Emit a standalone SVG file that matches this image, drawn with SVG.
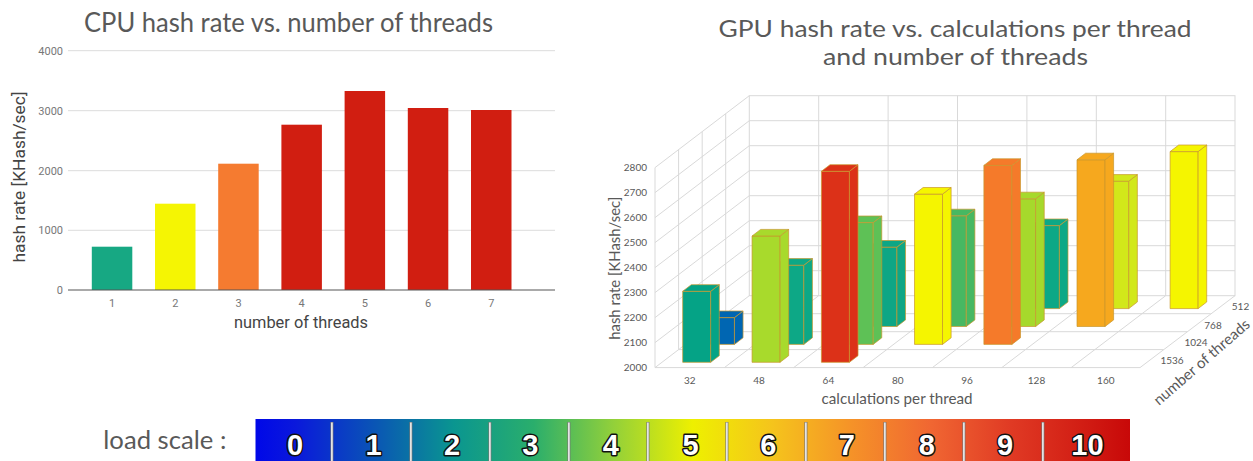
<svg xmlns="http://www.w3.org/2000/svg" width="1253" height="461" viewBox="0 0 1253 461">
<style>
.title{font-family:Lato,"Open Sans","Liberation Sans",sans-serif;fill:#595959;}
.tick{font-family:Roboto,"Liberation Sans",sans-serif;font-size:11px;fill:#777;}
.axt{font-family:Roboto,"Liberation Sans",sans-serif;font-size:17px;fill:#444;}
.grid{stroke:#dcdcdc;stroke-width:1;fill:none;}
.g3{stroke:#d9d9d9;stroke-width:1;fill:none;}
.t3{font-family:Lato,"Open Sans","Liberation Sans",sans-serif;font-size:10px;fill:#595959;}
.a3{font-family:Lato,"Open Sans","Liberation Sans",sans-serif;font-size:15px;fill:#595959;}
.bar3 rect,.bar3 polygon{stroke:#c8962d;stroke-width:0.7;stroke-linejoin:round;}
.dig{font-family:"Liberation Sans",Arial,sans-serif;font-weight:bold;font-size:29px;fill:#fff;stroke:#111;stroke-width:3;paint-order:stroke;stroke-linejoin:round;text-anchor:middle;}
.sep{stroke:#777;stroke-width:3;}
.sepw{stroke:#fff;stroke-width:1.4;}
</style>
<defs>
<linearGradient id="load" x1="0" y1="0" x2="1" y2="0">
<stop offset="0" stop-color="#0008e8"/>
<stop offset="0.045" stop-color="#0a18dc"/>
<stop offset="0.136" stop-color="#0a55b5"/>
<stop offset="0.227" stop-color="#0a9690"/>
<stop offset="0.318" stop-color="#2aae6c"/>
<stop offset="0.409" stop-color="#92d03a"/>
<stop offset="0.5" stop-color="#eef000"/>
<stop offset="0.591" stop-color="#f5c41c"/>
<stop offset="0.682" stop-color="#f59228"/>
<stop offset="0.773" stop-color="#f06632"/>
<stop offset="0.864" stop-color="#e03a24"/>
<stop offset="0.955" stop-color="#d01a12"/>
<stop offset="1" stop-color="#c80808"/>
</linearGradient>
</defs>
<rect width="1253" height="461" fill="#fff"/>

<g id="cpu-chart">
<text class="title" x="288.5" y="32.3" font-size="26" text-anchor="middle" textLength="409" lengthAdjust="spacingAndGlyphs">CPU hash rate vs. number of threads</text>
<g class="grid">
<line x1="68" y1="50.7" x2="555" y2="50.7"/>
<line x1="68" y1="110.7" x2="555" y2="110.7"/>
<line x1="68" y1="170.7" x2="555" y2="170.7"/>
<line x1="68" y1="230.3" x2="555" y2="230.3"/>
</g>
<g class="tick" text-anchor="end">
<text x="63" y="54.7">4000</text>
<text x="63" y="114.7">3000</text>
<text x="63" y="174.7">2000</text>
<text x="63" y="234.3">1000</text>
<text x="63" y="294">0</text>
</g>
<g id="cpu-bars">
<rect x="91.8" y="246.7" width="40.5" height="43.3" fill="#17a883"/>
<rect x="155" y="203.7" width="40.5" height="86.3" fill="#f5f503"/>
<rect x="218.2" y="163.7" width="40.5" height="126.3" fill="#f57b30"/>
<rect x="281.4" y="124.7" width="40.5" height="165.3" fill="#d11e11"/>
<rect x="344.6" y="91" width="40.5" height="199" fill="#d11e11"/>
<rect x="407.8" y="108" width="40.5" height="182" fill="#d11e11"/>
<rect x="471" y="110" width="40.5" height="180" fill="#d11e11"/>
</g>
<line x1="68" y1="290" x2="555" y2="290" stroke="#555" stroke-width="1"/>
<g class="tick" text-anchor="middle">
<text x="112" y="306.7">1</text>
<text x="175.3" y="306.7">2</text>
<text x="238.5" y="306.7">3</text>
<text x="301.7" y="306.7">4</text>
<text x="364.9" y="306.7">5</text>
<text x="428" y="306.7">6</text>
<text x="491.3" y="306.7">7</text>
</g>
<text class="axt" x="301" y="327.5" text-anchor="middle" textLength="134" lengthAdjust="spacingAndGlyphs">number of threads</text>
<text class="axt" transform="translate(24.5,177) rotate(-90)" text-anchor="middle" textLength="171" lengthAdjust="spacingAndGlyphs">hash rate [KHash/sec]</text>
</g>

<g id="gpu-chart">
<text class="title" x="955" y="37.3" font-size="24" text-anchor="middle" textLength="473" lengthAdjust="spacingAndGlyphs">GPU hash rate vs. calculations per thread</text>
<text class="title" x="955.5" y="65" font-size="24" text-anchor="middle" textLength="265" lengthAdjust="spacingAndGlyphs">and number of threads</text>
<g id="gpu-grid" class="g3">
<rect x="749.3" y="95.7" width="485.7" height="200"/>
<line x1="818.7" y1="95.7" x2="818.7" y2="295.7"/>
<line x1="888.1" y1="95.7" x2="888.1" y2="295.7"/>
<line x1="957.5" y1="95.7" x2="957.5" y2="295.7"/>
<line x1="1026.9" y1="95.7" x2="1026.9" y2="295.7"/>
<line x1="1096.3" y1="95.7" x2="1096.3" y2="295.7"/>
<line x1="1165.7" y1="95.7" x2="1165.7" y2="295.7"/>
<line x1="749.3" y1="120.7" x2="1235" y2="120.7"/>
<line x1="749.3" y1="145.7" x2="1235" y2="145.7"/>
<line x1="749.3" y1="170.7" x2="1235" y2="170.7"/>
<line x1="749.3" y1="195.7" x2="1235" y2="195.7"/>
<line x1="749.3" y1="220.7" x2="1235" y2="220.7"/>
<line x1="749.3" y1="245.7" x2="1235" y2="245.7"/>
<line x1="749.3" y1="270.7" x2="1235" y2="270.7"/>
<line x1="655" y1="167.6" x2="655" y2="367.6"/>
<line x1="678.6" y1="149.6" x2="678.6" y2="349.6"/>
<line x1="702.2" y1="131.7" x2="702.2" y2="331.7"/>
<line x1="725.7" y1="113.7" x2="725.7" y2="313.7"/>
<line x1="655" y1="367.6" x2="749.3" y2="295.7"/>
<line x1="655" y1="342.6" x2="749.3" y2="270.7"/>
<line x1="655" y1="317.6" x2="749.3" y2="245.7"/>
<line x1="655" y1="292.6" x2="749.3" y2="220.7"/>
<line x1="655" y1="267.6" x2="749.3" y2="195.7"/>
<line x1="655" y1="242.6" x2="749.3" y2="170.7"/>
<line x1="655" y1="217.6" x2="749.3" y2="145.7"/>
<line x1="655" y1="192.6" x2="749.3" y2="120.7"/>
<line x1="655" y1="167.6" x2="749.3" y2="95.7"/>
<line x1="655" y1="367.6" x2="1140" y2="367.6"/>
<line x1="678.6" y1="349.6" x2="1163.6" y2="349.6"/>
<line x1="702.2" y1="331.7" x2="1187.2" y2="331.7"/>
<line x1="725.7" y1="313.7" x2="1210.7" y2="313.7"/>
<line x1="724.4" y1="367.6" x2="818.7" y2="295.7"/>
<line x1="793.7" y1="367.6" x2="888.1" y2="295.7"/>
<line x1="863.1" y1="367.6" x2="957.5" y2="295.7"/>
<line x1="932.4" y1="367.6" x2="1026.9" y2="295.7"/>
<line x1="1001.8" y1="367.6" x2="1096.3" y2="295.7"/>
<line x1="1071.2" y1="367.6" x2="1165.7" y2="295.7"/>
<line x1="1140" y1="367.6" x2="1235" y2="295.7"/>
</g>
<g id="gpu-bars" class="bar3">
<g transform="translate(1031.39,225.6)" fill="#0da886"><rect x="0" y="0" width="28" height="83"/><polygon points="28,0 36.6,-6.6 36.6,76.4 28,83"/><polygon points="0,0 8.6,-6.6 36.6,-6.6 28,0"/></g>
<g transform="translate(1100.75,181.2)" fill="#d2e81a"><rect x="0" y="0" width="28" height="127.4"/><polygon points="28,0 36.6,-6.6 36.6,120.8 28,127.4"/><polygon points="0,0 8.6,-6.6 36.6,-6.6 28,0"/></g>
<g transform="translate(1170.11,151.6)" fill="#f5f500"><rect x="0" y="0" width="28" height="157"/><polygon points="28,0 36.6,-6.6 36.6,150.4 28,157"/><polygon points="0,0 8.6,-6.6 36.6,-6.6 28,0"/></g>
<g transform="translate(868.92,247.1)" fill="#0ea685"><rect x="0" y="0" width="28" height="79.4"/><polygon points="28,0 36.6,-6.6 36.6,72.8 28,79.4"/><polygon points="0,0 8.6,-6.6 36.6,-6.6 28,0"/></g>
<g transform="translate(938.28,215.8)" fill="#47b862"><rect x="0" y="0" width="28" height="110.7"/><polygon points="28,0 36.6,-6.6 36.6,104.1 28,110.7"/><polygon points="0,0 8.6,-6.6 36.6,-6.6 28,0"/></g>
<g transform="translate(1007.64,198.8)" fill="#a6d92c"><rect x="0" y="0" width="28" height="127.7"/><polygon points="28,0 36.6,-6.6 36.6,121.1 28,127.7"/><polygon points="0,0 8.6,-6.6 36.6,-6.6 28,0"/></g>
<g transform="translate(1077,159.8)" fill="#f6a81e"><rect x="0" y="0" width="28" height="166.7"/><polygon points="28,0 36.6,-6.6 36.6,160.1 28,166.7"/><polygon points="0,0 8.6,-6.6 36.6,-6.6 28,0"/></g>
<g transform="translate(706.45,317.6)" fill="#0066b2"><rect x="0" y="0" width="28" height="26.8"/><polygon points="28,0 36.6,-6.6 36.6,20.2 28,26.8"/><polygon points="0,0 8.6,-6.6 36.6,-6.6 28,0"/></g>
<g transform="translate(775.81,265.2)" fill="#0da886"><rect x="0" y="0" width="28" height="79.2"/><polygon points="28,0 36.6,-6.6 36.6,72.6 28,79.2"/><polygon points="0,0 8.6,-6.6 36.6,-6.6 28,0"/></g>
<g transform="translate(845.17,222.6)" fill="#5ec156"><rect x="0" y="0" width="28" height="121.8"/><polygon points="28,0 36.6,-6.6 36.6,115.2 28,121.8"/><polygon points="0,0 8.6,-6.6 36.6,-6.6 28,0"/></g>
<g transform="translate(914.53,194.1)" fill="#f5f500"><rect x="0" y="0" width="28" height="150.3"/><polygon points="28,0 36.6,-6.6 36.6,143.7 28,150.3"/><polygon points="0,0 8.6,-6.6 36.6,-6.6 28,0"/></g>
<g transform="translate(983.89,165.4)" fill="#f57a2a"><rect x="0" y="0" width="28" height="179"/><polygon points="28,0 36.6,-6.6 36.6,172.4 28,179"/><polygon points="0,0 8.6,-6.6 36.6,-6.6 28,0"/></g>
<g transform="translate(682.7,291.3)" fill="#05a386"><rect x="0" y="0" width="28" height="71"/><polygon points="28,0 36.6,-6.6 36.6,64.4 28,71"/><polygon points="0,0 8.6,-6.6 36.6,-6.6 28,0"/></g>
<g transform="translate(752.06,236)" fill="#a8da2c"><rect x="0" y="0" width="28" height="126.3"/><polygon points="28,0 36.6,-6.6 36.6,119.7 28,126.3"/><polygon points="0,0 8.6,-6.6 36.6,-6.6 28,0"/></g>
<g transform="translate(821.42,171.3)" fill="#dc3118"><rect x="0" y="0" width="28" height="191"/><polygon points="28,0 36.6,-6.6 36.6,184.4 28,191"/><polygon points="0,0 8.6,-6.6 36.6,-6.6 28,0"/></g>
</g>
<g class="t3" text-anchor="end">
<text x="647" y="171.1">2800</text>
<text x="647" y="196.1">2700</text>
<text x="647" y="221.1">2600</text>
<text x="647" y="246.1">2500</text>
<text x="647" y="271.1">2400</text>
<text x="647" y="296.1">2300</text>
<text x="647" y="321.1">2200</text>
<text x="647" y="346.1">2100</text>
<text x="647" y="371.1">2000</text>
</g>
<g class="t3" text-anchor="middle">
<text x="689.7" y="383.5">32</text>
<text x="759" y="383.5">48</text>
<text x="828.4" y="383.5">64</text>
<text x="897.8" y="383.5">80</text>
<text x="967.1" y="383.5">96</text>
<text x="1036.5" y="383.5">128</text>
<text x="1105.8" y="383.5">160</text>
<text x="1240.5" y="309.5">512</text>
<text x="1213" y="328.8">768</text>
<text x="1196" y="345.5">1024</text>
<text x="1172" y="363.5">1536</text>
</g>
<text class="a3" x="897" y="403.5" text-anchor="middle" textLength="151" lengthAdjust="spacingAndGlyphs">calculations per thread</text>
<text class="a3" font-size="14" transform="translate(619.5,268.3) rotate(-90)" text-anchor="middle" textLength="143" lengthAdjust="spacingAndGlyphs">hash rate [KHash/sec]</text>
<text class="a3" font-size="17" transform="translate(1205,366) rotate(-41)" text-anchor="middle" textLength="122" lengthAdjust="spacingAndGlyphs">number of threads</text>
</g>

<g id="load-scale">
<text class="title" x="103.3" y="449.3" font-size="25" textLength="123" lengthAdjust="spacingAndGlyphs">load scale :</text>
<rect x="255.5" y="419" width="874.5" height="42" fill="url(#load)"/>
<g class="sep">
<line x1="331.9" y1="422" x2="331.9" y2="461"/>
<line x1="410.9" y1="422" x2="410.9" y2="461"/>
<line x1="489.9" y1="422" x2="489.9" y2="461"/>
<line x1="568.9" y1="422" x2="568.9" y2="461"/>
<line x1="647.9" y1="422" x2="647.9" y2="461"/>
<line x1="726.9" y1="422" x2="726.9" y2="461"/>
<line x1="805.9" y1="422" x2="805.9" y2="461"/>
<line x1="884.9" y1="422" x2="884.9" y2="461"/>
<line x1="963.9" y1="422" x2="963.9" y2="461"/>
<line x1="1042.9" y1="422" x2="1042.9" y2="461"/>
</g>
<g class="sepw">
<line x1="331.9" y1="422.5" x2="331.9" y2="461"/>
<line x1="410.9" y1="422.5" x2="410.9" y2="461"/>
<line x1="489.9" y1="422.5" x2="489.9" y2="461"/>
<line x1="568.9" y1="422.5" x2="568.9" y2="461"/>
<line x1="647.9" y1="422.5" x2="647.9" y2="461"/>
<line x1="726.9" y1="422.5" x2="726.9" y2="461"/>
<line x1="805.9" y1="422.5" x2="805.9" y2="461"/>
<line x1="884.9" y1="422.5" x2="884.9" y2="461"/>
<line x1="963.9" y1="422.5" x2="963.9" y2="461"/>
<line x1="1042.9" y1="422.5" x2="1042.9" y2="461"/>
</g>
<g class="dig">
<text x="295" y="455">0</text>
<text x="373.6" y="455">1</text>
<text x="452" y="455">2</text>
<text x="530.3" y="455">3</text>
<text x="610.7" y="455">4</text>
<text x="690.5" y="455">5</text>
<text x="768.3" y="455">6</text>
<text x="846.7" y="455">7</text>
<text x="926.7" y="455">8</text>
<text x="1005" y="455">9</text>
<text x="1087.5" y="455">10</text>
</g>
</g>
</svg>
